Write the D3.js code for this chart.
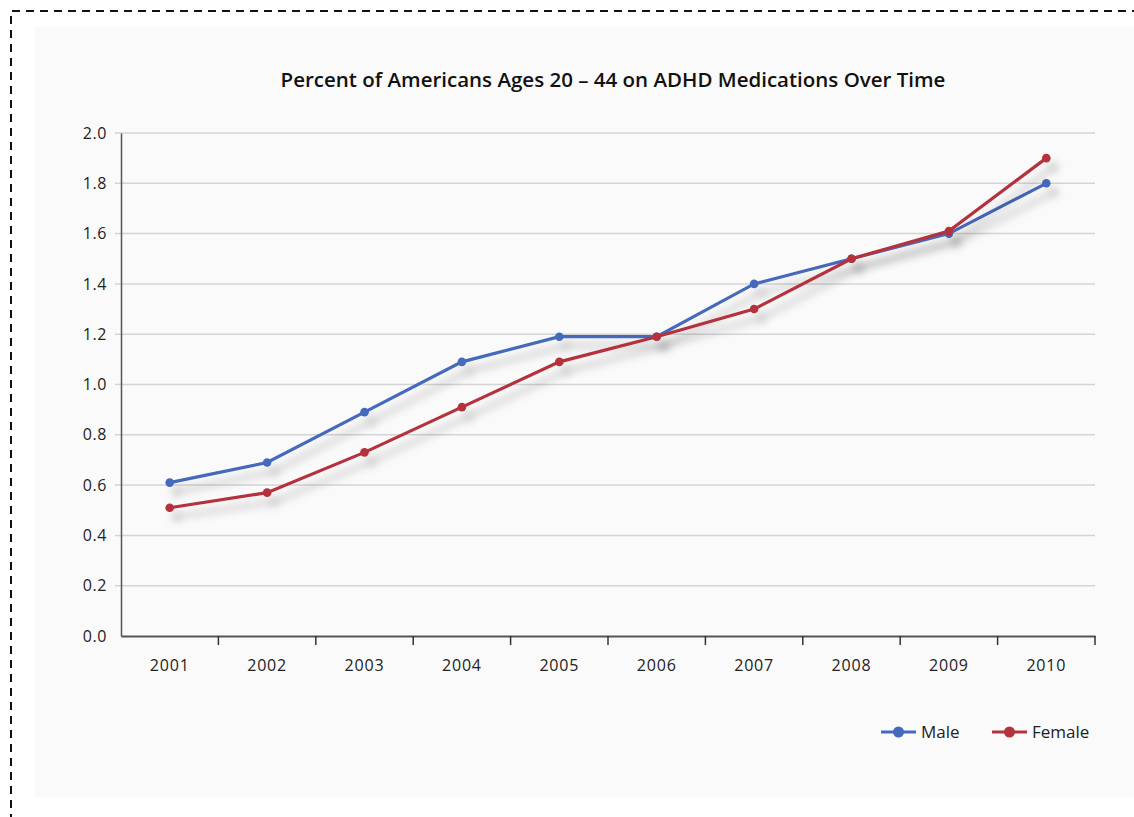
<!DOCTYPE html>
<html>
<head>
<meta charset="utf-8">
<script src="https://cdn.jsdelivr.net/npm/d3@7"></script>
<style>
    body { margin: 0; background: #fff; }
    svg { display: block; font-family: "Open Sans", "DejaVu Sans", sans-serif; }
</style>
</head>
<body>
<div id="chart"></div>
<script>
// data
const years = ["2001", "2002", "2003", "2004", "2005", "2006", "2007", "2008", "2009", "2010"];
const male = [0.61, 0.69, 0.89, 1.09, 1.19, 1.19, 1.40, 1.50, 1.60, 1.80];
const female = [0.51, 0.57, 0.73, 0.91, 1.09, 1.19, 1.30, 1.50, 1.61, 1.90];
const yTicks = [0, 0.2, 0.4, 0.6, 0.8, 1.0, 1.2, 1.4, 1.6, 1.8, 2.0];

const series = [
    {name: "Male", values: male, color: "#4569bd"},
    {name: "Female", values: female, color: "#b5313c"}
];

const width = 1134,
    height = 817,
    margin = {top: 133, right: 39, bottom: 181, left: 121};

const svg = d3.select("#chart")
    .append("svg")
    .attr("width", width)
    .attr("height", height);

// drop shadow under lines
const defs = svg.append("defs");
const filter = defs.append("filter")
    .attr("id", "shadow")
    .attr("x", "-10%").attr("y", "-10%")
    .attr("width", "130%").attr("height", "150%");
filter.append("feDropShadow")
    .attr("dx", 7).attr("dy", 9)
    .attr("stdDeviation", 4)
    .attr("flood-color", "#000")
    .attr("flood-opacity", 0.25);

// outer dashed frame + panel
svg.append("rect")
    .attr("x", 35).attr("y", 27)
    .attr("width", width - 35).attr("height", 770)
    .attr("fill", "#fafafa");
svg.append("path")
    .attr("d", `M11,${height + 5} L11,11 L${width + 5},11`)
    .attr("fill", "none")
    .attr("stroke", "#111")
    .attr("stroke-width", 2)
    .attr("stroke-dasharray", "8,6");

const xScale = d3.scaleBand()
    .domain(years)
    .range([margin.left, width - margin.right]);

const yScale = d3.scaleLinear()
    .domain([0, 2])
    .range([height - margin.bottom, margin.top]);

// grid
svg.append("g")
    .selectAll("line")
    .data(yTicks.filter(d => d > 0))
    .join("line")
    .attr("x1", margin.left - 6)
    .attr("x2", width - margin.right)
    .attr("y1", d => yScale(d))
    .attr("y2", d => yScale(d))
    .attr("stroke", "#d4d4d4")
    .attr("stroke-width", 1.5);

// y axis
const yAxis = svg.append("g")
    .attr("transform", `translate(${margin.left},0)`)
    .call(d3.axisLeft(yScale)
        .tickValues(yTicks)
        .tickSize(0)
        .tickPadding(14)
        .tickFormat(d3.format(".1f")));
yAxis.attr("font-family", null);
yAxis.select(".domain").attr("stroke", "#555").attr("stroke-width", 1.5);
yAxis.selectAll("text")
    .attr("font-size", 16)
    .attr("letter-spacing", 0.6)
    .attr("fill", "#222");

// x axis, ticks sit between categories
const xAxis = svg.append("g")
    .attr("transform", `translate(0,${height - margin.bottom})`)
    .call(d3.axisBottom(xScale).tickSize(0).tickPadding(24));
xAxis.attr("font-family", null);
xAxis.select(".domain").attr("stroke", "#555").attr("stroke-width", 2);
xAxis.selectAll("text")
    .attr("font-size", 16)
    .attr("letter-spacing", 0.8)
    .attr("fill", "#222");
xAxis.append("g")
    .selectAll("line")
    .data(years.slice(1).concat(["end"]))
    .join("line")
    .attr("x1", d => d === "end" ? width - margin.right : xScale(d))
    .attr("x2", d => d === "end" ? width - margin.right : xScale(d))
    .attr("y1", 0).attr("y2", 9)
    .attr("stroke", "#333")
    .attr("stroke-width", 1.5);

// lines
const cx = (d, i) => xScale(years[i]) + xScale.bandwidth() / 2;
const line = d3.line()
    .x(cx)
    .y(d => yScale(d));

const groups = svg.append("g")
    .selectAll("g")
    .data(series)
    .join("g")
    .attr("filter", "url(#shadow)");

groups.append("path")
    .attr("d", d => line(d.values))
    .attr("fill", "none")
    .attr("stroke", d => d.color)
    .attr("stroke-width", 3.2);

groups.selectAll("circle")
    .data(d => d.values.map(v => ({v, color: d.color})))
    .join("circle")
    .attr("cx", (d, i) => cx(d.v, i))
    .attr("cy", d => yScale(d.v))
    .attr("r", 4.3)
    .attr("fill", d => d.color);

// title
svg.append("text")
    .attr("x", 613)
    .attr("y", 87)
    .attr("text-anchor", "middle")
    .attr("font-size", 20.5)
    .attr("font-weight", 600)
    .attr("fill", "#111")
    .text("Percent of Americans Ages 20 \u2013 44 on ADHD Medications Over Time");

// legend
const legendX = [881, 992];
const legend = svg.append("g")
    .selectAll("g")
    .data(series)
    .join("g")
    .attr("transform", (d, i) => `translate(${legendX[i]},732)`);
legend.append("line")
    .attr("x1", 0).attr("x2", 35)
    .attr("stroke", d => d.color)
    .attr("stroke-width", 3.2);
legend.append("circle")
    .attr("cx", 17.5)
    .attr("r", 5.5)
    .attr("fill", d => d.color);
legend.append("text")
    .attr("x", 40)
    .attr("dy", "0.35em")
    .attr("font-size", 17)
    .attr("fill", "#222")
    .text(d => d.name);
</script>
</body>
</html>
